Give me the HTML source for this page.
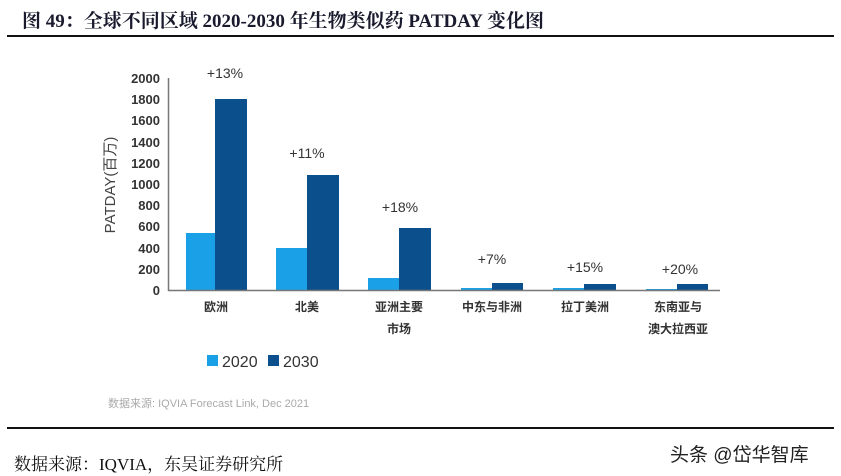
<!DOCTYPE html>
<html><head><meta charset="utf-8"><style>
body{margin:0;width:841px;height:476px;background:#fff;overflow:hidden;position:relative;font-family:"Liberation Sans","Noto Sans CJK SC",sans-serif}
.t{position:absolute;white-space:nowrap}
</style></head><body>
<div class="t" style="left:22px;top:6px;font-family:'Liberation Serif','Noto Serif CJK SC',serif;font-weight:bold;font-size:19px;color:#1a1a2e">图 49：全球不同区域 2020-2030 年生物类似药 PATDAY 变化图</div>
<div style="position:absolute;left:7px;top:35px;width:827px;height:2px;background:#111"></div>
<svg width="841" height="476" style="position:absolute;left:0;top:0" font-family="Liberation Sans,Noto Sans CJK SC,sans-serif">
<g fill="#333" font-size="13" font-weight="bold" text-anchor="end">
<text x="160" y="295">0</text><text x="160" y="274">200</text><text x="160" y="253">400</text><text x="160" y="231">600</text><text x="160" y="210">800</text><text x="160" y="189">1000</text><text x="160" y="168">1200</text><text x="160" y="147">1400</text><text x="160" y="125">1600</text><text x="160" y="104">1800</text><text x="160" y="83">2000</text>
</g>
<text transform="translate(115,185) rotate(-90)" text-anchor="middle" font-size="15" fill="#444">PATDAY(百万)</text>
<g fill="#1aa0e6">
<rect x="186" y="233" width="29" height="57"/><rect x="276" y="248" width="31" height="42"/><rect x="368" y="278" width="31" height="12"/><rect x="461" y="288" width="31" height="2"/><rect x="553" y="288" width="31" height="2"/><rect x="646" y="289" width="31" height="1"/>
</g>
<g fill="#0b4f8c">
<rect x="215" y="99" width="32" height="191"/><rect x="307" y="175" width="32" height="115"/><rect x="399" y="228" width="32" height="62"/><rect x="492" y="283" width="31" height="7"/><rect x="584" y="284" width="32" height="6"/><rect x="677" y="284" width="31" height="6"/>
</g>
<line x1="168.5" y1="78" x2="168.5" y2="291" stroke="#777" stroke-width="1.5"/>
<line x1="168" y1="290.5" x2="720" y2="290.5" stroke="#777" stroke-width="1.5"/>
<g font-size="14" fill="#333" text-anchor="middle">
<text x="225" y="78">+13%</text><text x="307" y="158">+11%</text><text x="400" y="212">+18%</text><text x="492" y="264">+7%</text><text x="585" y="272">+15%</text><text x="680" y="274">+20%</text>
</g>
<g font-size="12" fill="#333" text-anchor="middle" font-weight="bold">
<text x="216" y="311">欧洲</text><text x="307" y="311">北美</text><text x="399" y="311">亚洲主要</text><text x="399" y="333">市场</text><text x="492" y="311">中东与非洲</text><text x="585" y="311">拉丁美洲</text><text x="678" y="311">东南亚与</text><text x="678" y="333">澳大拉西亚</text>
</g>
<rect x="207" y="355" width="11" height="11" fill="#1aa0e6"/><text x="222" y="367" font-size="16" fill="#333">2020</text>
<rect x="268" y="355" width="11" height="11" fill="#0b4f8c"/><text x="283" y="367" font-size="16" fill="#333">2030</text>
<text x="108" y="407" font-size="11" fill="#aaa">数据来源: IQVIA Forecast Link, Dec 2021</text>
</svg>
<div style="position:absolute;left:7px;top:427px;width:827px;height:2px;background:#111"></div>
<div class="t" style="left:14px;top:450px;font-family:'Liberation Serif','Noto Serif CJK SC',serif;font-size:17px;color:#111">数据来源：IQVIA，东吴证券研究所</div>
<div class="t" style="left:670px;top:440px;font-size:19px;color:#222">头条 @岱华智库</div>
</body></html>
